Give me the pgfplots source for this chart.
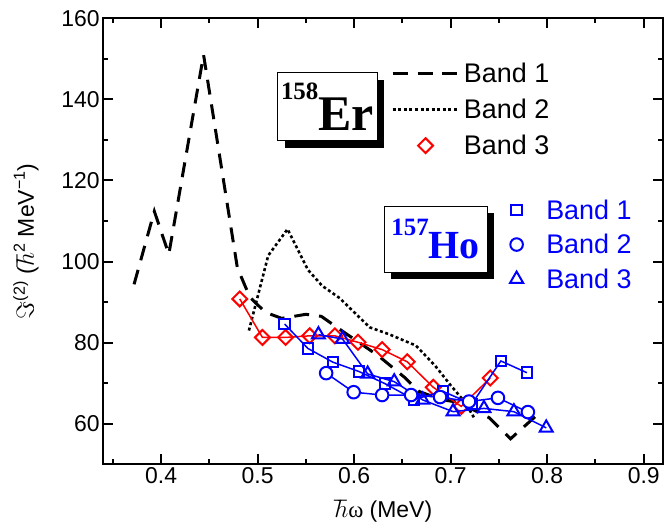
\documentclass[border=0pt]{standalone}
\usepackage{fontspec}
\setmainfont{Liberation Sans}
\newfontfamily\timesbf{Liberation Serif}
\newfontfamily\timesrm{Liberation Serif}
\usepackage{pgfplots}
\pgfplotsset{compat=1.18}
\usetikzlibrary{shadows}
\definecolor{myred}{RGB}{255,0,0}
\definecolor{myblue}{RGB}{0,0,255}
\pgfplotsset{
  myframe/.style={
    width=561.4pt, height=447.4pt, scale only axis,
    xmin=0.34, xmax=0.92, ymin=50, ymax=160,
  },
  lineimg/.style={legend image code/.code={\draw[##1] (0pt,0pt) -- (65pt,0pt);}},
  markimgA/.style={legend image code/.code={\path (0pt,0pt) (65pt,0pt); \draw[##1] plot coordinates {(33pt,0pt)};}},
  markimgB/.style={legend image code/.code={\path (0pt,0pt) (20pt,0pt); \draw[##1] plot coordinates {(10pt,0pt)};}},
}
\begin{document}
\begin{tikzpicture}
\begin{axis}[myframe, name=ax,
  axis line style={line width=2pt, black},
  xtick={0.4,0.5,0.6,0.7,0.8,0.9}, ytick={60,80,100,120,140,160},
  minor xtick={0.35,0.45,0.55,0.65,0.75,0.85}, minor ytick={50,70,90,110,130,150},
  major tick length=10pt, minor tick length=5pt,
  tick align=inside,
  tick style={line width=2pt, black},
  tick label style={font=\fontsize{23}{23}\selectfont},
  yticklabel style={minimum height=36.6pt},
  /pgf/number format/assume math mode=true,
  xlabel={$\hbar${\timesrm ω} (MeV)},
  ylabel={$\Im$\textsuperscript{(2)} ($\hbar$\textsuperscript{2} MeV\textsuperscript{−1})},
  label style={font=\fontsize{23}{23}\selectfont},
  xlabel style={at={(axis description cs:0.5,-0.106)}, anchor=center, minimum height=34pt},
  ylabel style={at={(axis description cs:-0.138,0.5)}, anchor=center, minimum height=52pt},
  legend style={at={(axis description cs:0.514,0.901)}, anchor=north west, draw=none, fill=none,
    inner sep=0pt, row sep=15.3pt, column sep=5pt, font=\fontsize{27}{27}\selectfont,
    nodes={inner sep=0pt}},
  legend cell align=left,
]
\addplot[black, line width=3pt, dash pattern=on 15pt off 10pt, lineimg] coordinates {
(0.372,94.4)(0.393,112.4)(0.408,101.8)(0.444,151.0)(0.479,98.5)(0.492,91.2)(0.508,87.5)
(0.525,86.0)(0.550,87.0)(0.566,86.5)(0.590,82.5)(0.625,76.8)(0.652,71.5)(0.667,68.0)
(0.690,66.0)(0.708,65.3)(0.740,61.5)(0.762,56.3)(0.791,62.5)};
\addlegendentry{Band 1}
\addplot[black, line width=2.6pt, dash pattern=on 3pt off 2.6pt, lineimg] coordinates {
(0.491,83.0)(0.511,101.5)(0.531,108.0)(0.552,98.0)(0.567,94.0)(0.585,91.0)(0.616,83.8)
(0.636,82.1)(0.664,79.3)(0.684,74.3)(0.700,69.5)(0.715,65.3)(0.724,61.6)};
\addlegendentry{Band 2}
\addplot[myred, line width=1.5pt, mark=square, mark size=5.3pt,
  mark options={rotate=45, line width=2pt, fill=white, solid}, markimgA] coordinates {
(0.4815,90.8)(0.505,81.3)(0.529,81.3)(0.554,81.7)(0.580,81.7)(0.604,80.1)(0.629,78.3)
(0.655,75.3)(0.682,69.0)(0.711,64.3)(0.741,71.3)};
\addlegendentry{Band 3}
\end{axis}
\begin{axis}[myframe, hide axis,
  legend style={at={(axis description cs:0.719,0.594)}, anchor=north west, draw=none, fill=none,
    inner sep=0pt, row sep=13.5pt, column sep=19pt, font=\fontsize{27}{27}\selectfont,
    nodes={inner sep=0pt, text=myblue}},
  legend cell align=left,
]
\addplot[myblue, line width=1.5pt, mark=square, mark size=5.3pt,
  mark options={line width=2pt, fill=white}, markimgB] coordinates {
(0.528,84.6)(0.552,78.6)(0.578,75.2)(0.605,72.9)(0.632,69.9)(0.662,66.0)(0.692,68.0)
(0.722,64.9)(0.752,75.5)(0.779,72.6)};
\addlegendentry{Band 1}
\addplot[myblue, line width=1.5pt, mark=*, mark size=6.3pt,
  mark options={line width=2pt, fill=white}, markimgB] coordinates {
(0.571,72.5)(0.5995,67.8)(0.629,67.1)(0.659,67.1)(0.689,66.6)(0.719,65.5)(0.749,66.4)(0.780,62.9)};
\addlegendentry{Band 2}
\addplot[myblue, line width=1.5pt, mark=triangle, mark size=7.5pt,
  mark options={line width=2pt, fill=white}, markimgB] coordinates {
(0.563,82.0)(0.588,80.9)(0.614,72.3)(0.6415,70.4)(0.671,65.9)(0.7025,63.0)(0.7345,63.8)
(0.7655,63.0)(0.799,59.0)};
\addlegendentry{Band 3}
\node[draw=black, line width=0.8pt, fill=white, minimum width=100pt, minimum height=68pt,
  inner sep=0pt, general shadow={fill=black, shadow xshift=7pt, shadow yshift=-7pt}]
  at (axis cs:0.5723,138.2)
  {\timesbf\bfseries\raisebox{31.6pt}{\fontsize{25}{25}\selectfont 158}\fontsize{50}{50}\selectfont Er};
\node[draw=black, line width=0.8pt, fill=white, minimum width=103pt, minimum height=66pt,
  inner sep=0pt, general shadow={fill=black, shadow xshift=7pt, shadow yshift=-7pt}]
  at (axis cs:0.6844,105.5)
  {\color{myblue}\timesbf\bfseries\raisebox{23.3pt}{\fontsize{25}{25}\selectfont 157}\fontsize{40}{40}\selectfont Ho};
\end{axis}
\end{tikzpicture}
\end{document}
